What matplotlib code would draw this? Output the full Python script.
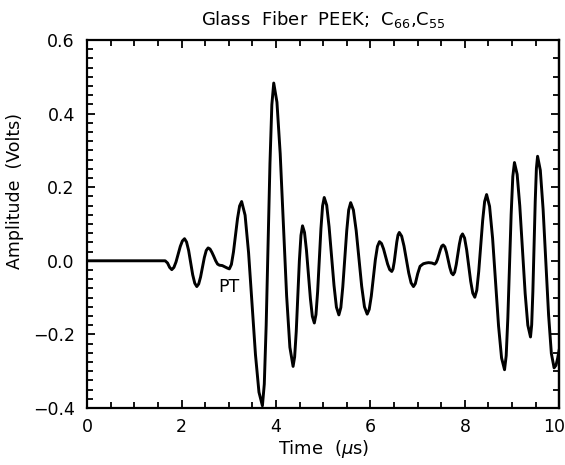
import matplotlib
matplotlib.use("Agg")
import matplotlib.pyplot as plt
from matplotlib.ticker import MultipleLocator
from matplotlib.transforms import ScaledTranslation

# Waveform (time in microseconds, amplitude in volts)
time_us = [
    0.0, 1.65, 1.70, 1.745, 1.79,
    1.835, 1.88, 1.925, 1.97, 2.015, 2.06,
    2.103, 2.147, 2.19, 2.233, 2.277, 2.32,
    2.36, 2.40, 2.44, 2.48, 2.52, 2.56,
    2.60, 2.64, 2.68, 2.72, 2.76, 2.80,
    2.86, 2.92, 2.97, 3.01,
    3.053, 3.097, 3.14, 3.183, 3.227, 3.27,
    3.343, 3.417, 3.49, 3.563, 3.637, 3.71,
    3.75, 3.79, 3.83, 3.87, 3.91, 3.95,
    4.018, 4.087, 4.155, 4.223, 4.292, 4.36,
    4.393, 4.427, 4.46, 4.493, 4.527, 4.56,
    4.602, 4.643, 4.685, 4.727, 4.768, 4.81,
    4.845, 4.88, 4.915, 4.95, 4.985, 5.02,
    5.072, 5.123, 5.175, 5.227, 5.278, 5.33,
    5.372, 5.413, 5.455, 5.497, 5.538, 5.58,
    5.638, 5.697, 5.755, 5.813, 5.872, 5.93,
    5.973, 6.017, 6.06, 6.103, 6.147, 6.19,
    6.233, 6.277, 6.32, 6.363, 6.407, 6.45,
    6.477, 6.503, 6.53, 6.557, 6.583, 6.61,
    6.66, 6.71, 6.76, 6.81, 6.86, 6.91,
    6.95, 7.0, 7.05, 7.12, 7.18, 7.23, 7.30, 7.36,
    7.39, 7.42, 7.45, 7.48, 7.51, 7.54,
    7.575, 7.61, 7.645, 7.68, 7.715, 7.75,
    7.783, 7.817, 7.85, 7.883, 7.917, 7.95,
    7.993, 8.037, 8.08, 8.123, 8.167, 8.21,
    8.252, 8.293, 8.335, 8.377, 8.418, 8.46,
    8.523, 8.587, 8.65, 8.713, 8.777, 8.84,
    8.875, 8.91, 8.945, 8.98, 9.015, 9.05,
    9.107, 9.163, 9.22, 9.277, 9.333, 9.39,
    9.415, 9.44, 9.465, 9.49, 9.515, 9.54,
    9.598, 9.657, 9.715, 9.773, 9.832, 9.89,
    9.93, 9.965, 10.0,
]
amplitude_v = [
    0.0, 0.0, -0.006, -0.018, -0.024,
    -0.018, -0.003, 0.018, 0.039, 0.054, 0.060,
    0.051, 0.028, -0.005, -0.038, -0.061, -0.070,
    -0.063, -0.044, -0.018, 0.009, 0.028, 0.035,
    0.032, 0.023, 0.012, 0.0, -0.009, -0.012,
    -0.013, -0.017, -0.020, -0.022,
    -0.010, 0.024, 0.070, 0.115, 0.149, 0.161,
    0.124, 0.022, -0.117, -0.255, -0.357, -0.394,
    -0.335, -0.175, 0.045, 0.264, 0.424, 0.483,
    0.431, 0.291, 0.098, -0.095, -0.235, -0.287,
    -0.261, -0.192, -0.096, 0.0, 0.069, 0.095,
    0.077, 0.029, -0.037, -0.103, -0.151, -0.169,
    -0.146, -0.084, 0.002, 0.087, 0.149, 0.172,
    0.151, 0.092, 0.013, -0.067, -0.126, -0.147,
    -0.127, -0.071, 0.006, 0.082, 0.138, 0.158,
    0.138, 0.082, 0.007, -0.069, -0.125, -0.145,
    -0.132, -0.096, -0.047, 0.003, 0.039, 0.052,
    0.047, 0.032, 0.012, -0.009, -0.024, -0.029,
    -0.022, -0.003, 0.024, 0.051, 0.070, 0.077,
    0.067, 0.040, 0.004, -0.033, -0.060, -0.070,
    -0.062, -0.035, -0.015, -0.008, -0.006, -0.005, -0.006, -0.009,
    -0.005, 0.004, 0.017, 0.030, 0.040, 0.043,
    0.038, 0.023, 0.003, -0.018, -0.033, -0.038,
    -0.031, -0.010, 0.018, 0.045, 0.066, 0.073,
    0.062, 0.030, -0.013, -0.056, -0.088, -0.099,
    -0.080, -0.029, 0.041, 0.110, 0.161, 0.180,
    0.148, 0.061, -0.058, -0.177, -0.264, -0.296,
    -0.258, -0.155, -0.015, 0.126, 0.229, 0.267,
    0.235, 0.149, 0.030, -0.089, -0.175, -0.207,
    -0.174, -0.084, 0.039, 0.161, 0.251, 0.284,
    0.246, 0.140, -0.004, -0.147, -0.252, -0.291,
    -0.284, -0.265, -0.240,
]

x_ticks = [0, 2, 4, 6, 8, 10]
y_ticks = [-0.4, -0.2, 0.0, 0.2, 0.4, 0.6]
y_tick_labels = ["\u22120.4", "\u22120.2", "0.0", "0.2", "0.4", "0.6"]

title_text = r"Glass  Fiber  PEEK;  C$_{66}$,C$_{55}$"
x_label = r"Time  ($\mu$s)"
y_label = "Amplitude  (Volts)"
annotation_text = "PT"
annotation_pos = (3.01, -0.072)

plt.rcParams['font.family'] = ['DejaVu Sans']
plt.rcParams['mathtext.fontset'] = 'dejavusans'

fig = plt.figure(figsize=(5.65, 4.65), dpi=100)
ax = fig.add_axes([0.1545, 0.1226, 0.8354, 0.7914])

ax.plot(time_us, amplitude_v, color='black', lw=2.1, solid_joinstyle='round',
        solid_capstyle='round')

ax.set_xlim(0, 10)
ax.set_ylim(-0.4, 0.6)
ax.set_xticks(x_ticks)
ax.set_xticklabels([str(t) for t in x_ticks])
ax.set_yticks(y_ticks)
ax.set_yticklabels(y_tick_labels)
ax.xaxis.set_minor_locator(MultipleLocator(0.5))
ax.yaxis.set_minor_locator(MultipleLocator(0.025))

ax.tick_params(which='both', direction='in', top=True, right=False, width=1.3,
               labelsize=12.5, colors='black')
ax.tick_params(axis='x', which='major', length=6, pad=7)
ax.tick_params(axis='x', which='minor', length=4)
ax.tick_params(axis='y', which='major', length=6, pad=9)
ax.tick_params(axis='y', which='minor', length=4)

sec = ax.secondary_yaxis('right')
sec.set_yticks(y_ticks)
sec.yaxis.set_minor_locator(MultipleLocator(0.05))
sec.tick_params(which='both', direction='in', labelright=False, width=1.3)
sec.tick_params(which='major', length=6)
sec.tick_params(which='minor', length=4)
sec.spines['right'].set_linewidth(1.6)

for s in ax.spines.values():
    s.set_linewidth(1.6)

# nudge the last x tick label so it stays inside the canvas
last = ax.get_xticklabels()[-1]
last.set_transform(last.get_transform() + ScaledTranslation(-4 / 72, 0, fig.dpi_scale_trans))

ax.set_title(title_text, fontsize=13, pad=11)
ax.set_xlabel(x_label, fontsize=13, labelpad=2)
ax.set_ylabel(y_label, fontsize=12.5)
ax.yaxis.set_label_coords(-0.135, 0.59)

ax.text(annotation_pos[0], annotation_pos[1], annotation_text, fontsize=12.5,
        ha='center', va='center')

fig.savefig("out.png", dpi=100)
